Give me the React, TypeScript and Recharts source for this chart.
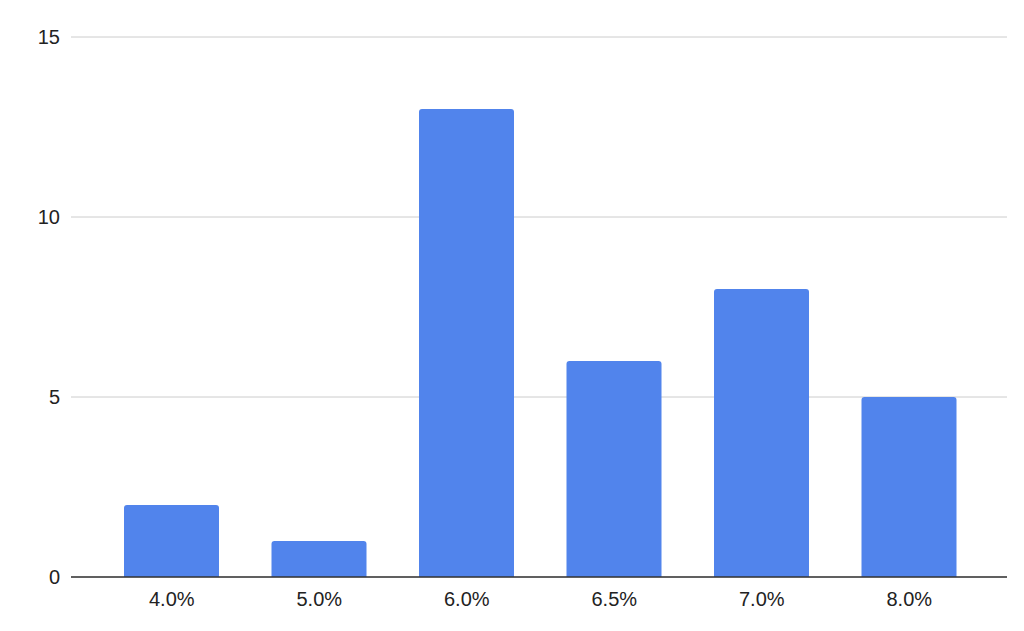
import { BarChart, Bar, XAxis, YAxis, CartesianGrid } from 'recharts';

const categories = ['4.0%', '5.0%', '6.0%', '6.5%', '7.0%', '8.0%'];
const counts = [2, 1, 13, 6, 8, 5];
const yTicks = [0, 5, 10, 15];

const data = categories.map((c, i) => ({ rate: c, count: counts[i] }));

const tickStyle = { fill: '#222', fontSize: 20, fontFamily: 'Liberation Sans, Arial, sans-serif' };

export default function App() {
  return (
    <div style={{ position: 'absolute', left: 0, top: 0, width: 1024, height: 631, background: '#fff' }}>
      <BarChart
        width={1024}
        height={631}
        data={data}
        margin={{ top: 37, right: 17, left: 0, bottom: 0 }}
      >
        <CartesianGrid vertical={false} stroke="#cccccc" />
        <XAxis
          dataKey="rate"
          height={54}
          padding={{ left: 27, right: 24 }}
          tick={tickStyle}
          tickSize={0}
          tickMargin={15}
          tickLine={false}
          axisLine={{ stroke: '#333', strokeWidth: 1.5 }}
        />
        <YAxis
          width={71}
          domain={[0, 15]}
          ticks={yTicks}
          tick={tickStyle}
          tickSize={0}
          tickMargin={11}
          tickLine={false}
          axisLine={false}
        />
        <Bar dataKey="count" fill="#5184ec" barSize={95} radius={[3, 3, 0, 0]} isAnimationActive={false} />
      </BarChart>
    </div>
  );
}
